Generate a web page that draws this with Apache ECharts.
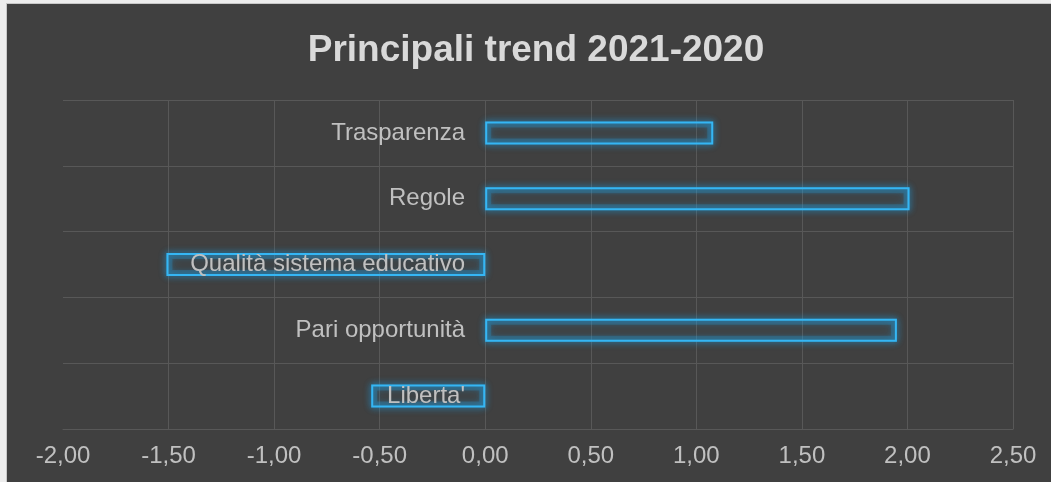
<!DOCTYPE html>
<html>
<head>
<meta charset="utf-8">
<script src="https://cdn.jsdelivr.net/npm/echarts@6/dist/echarts.min.js"></script>
<style>
  html, body { margin: 0; padding: 0; background: #ededed; }
  #main { position: absolute; left: 6px; top: 3px; width: 1045px; height: 479px;
          border-left: 1px solid #c8c8c8; border-top: 1px solid #c8c8c8; background: #404040; }
</style>
</head>
<body>
<div id="main"></div>
<script>
var categories = ["Liberta'", "Pari opportunità", "Qualità sistema educativo", "Regole", "Trasparenza"];
var values = [-0.54, 1.95, -1.51, 2.01, 1.08];

var chart = echarts.init(document.getElementById('main'));

// grid left edge at -2, zero sits 4 steps (4 x 105.5 px) further right
var zeroShift = 422;

var option = {
    backgroundColor: '#404040',
    animation: false,
    title: {
        text: 'Principali trend 2021-2020',
        left: 524,
        textAlign: 'center',
        top: 23,
        textStyle: {
            color: '#d9d9d9',
            fontSize: 37,
            fontWeight: 'bold',
            fontFamily: 'Liberation Sans, Arial, sans-serif'
        }
    },
    grid: {
        left: 56,
        right: 39,
        top: 96,
        bottom: 54,
        containLabel: false,
        outerBoundsMode: 'none'
    },
    xAxis: {
        type: 'value',
        min: -2,
        max: 2.5,
        interval: 0.5,
        axisLine: { show: true, lineStyle: { color: '#585858', width: 1 } },
        axisTick: { show: false },
        axisLabel: {
            color: '#c0c0c0',
            fontSize: 24,
            fontFamily: 'Liberation Sans, Arial, sans-serif',
            margin: 15,
            formatter: function (v) { return v.toFixed(2).replace('.', ','); }
        },
        splitLine: { show: true, showMinLine: false, lineStyle: { color: '#585858', width: 1 } }
    },
    yAxis: {
        type: 'category',
        data: categories,
        z: 5,
        offset: -zeroShift,
        axisLine: { show: false, onZero: false },
        axisTick: { show: false },
        axisLabel: {
            color: '#c0c0c0',
            fontSize: 24,
            fontFamily: 'Liberation Sans, Arial, sans-serif',
            margin: 20
        },
        splitLine: { show: true, lineStyle: { color: '#585858', width: 1 } }
    },
    series: [{
        // soft glow behind the outline
        type: 'bar',
        data: values,
        barWidth: 23,
        silent: true,
        z: 1,
        itemStyle: {
            color: 'none',
            borderColor: 'rgba(40,160,225,0.25)',
            borderWidth: 6,
            shadowColor: 'rgba(40,160,225,0.7)',
            shadowBlur: 10
        }
    }, {
        type: 'bar',
        data: values,
        barWidth: 23,
        barGap: '-100%',
        z: 2,
        itemStyle: {
            color: 'none',
            borderColor: '#35b6f4',
            borderWidth: 2,
            shadowColor: 'rgba(25,160,230,1)',
            shadowBlur: 6
        }
    }]
};

chart.setOption(option);
</script>
</body>
</html>
